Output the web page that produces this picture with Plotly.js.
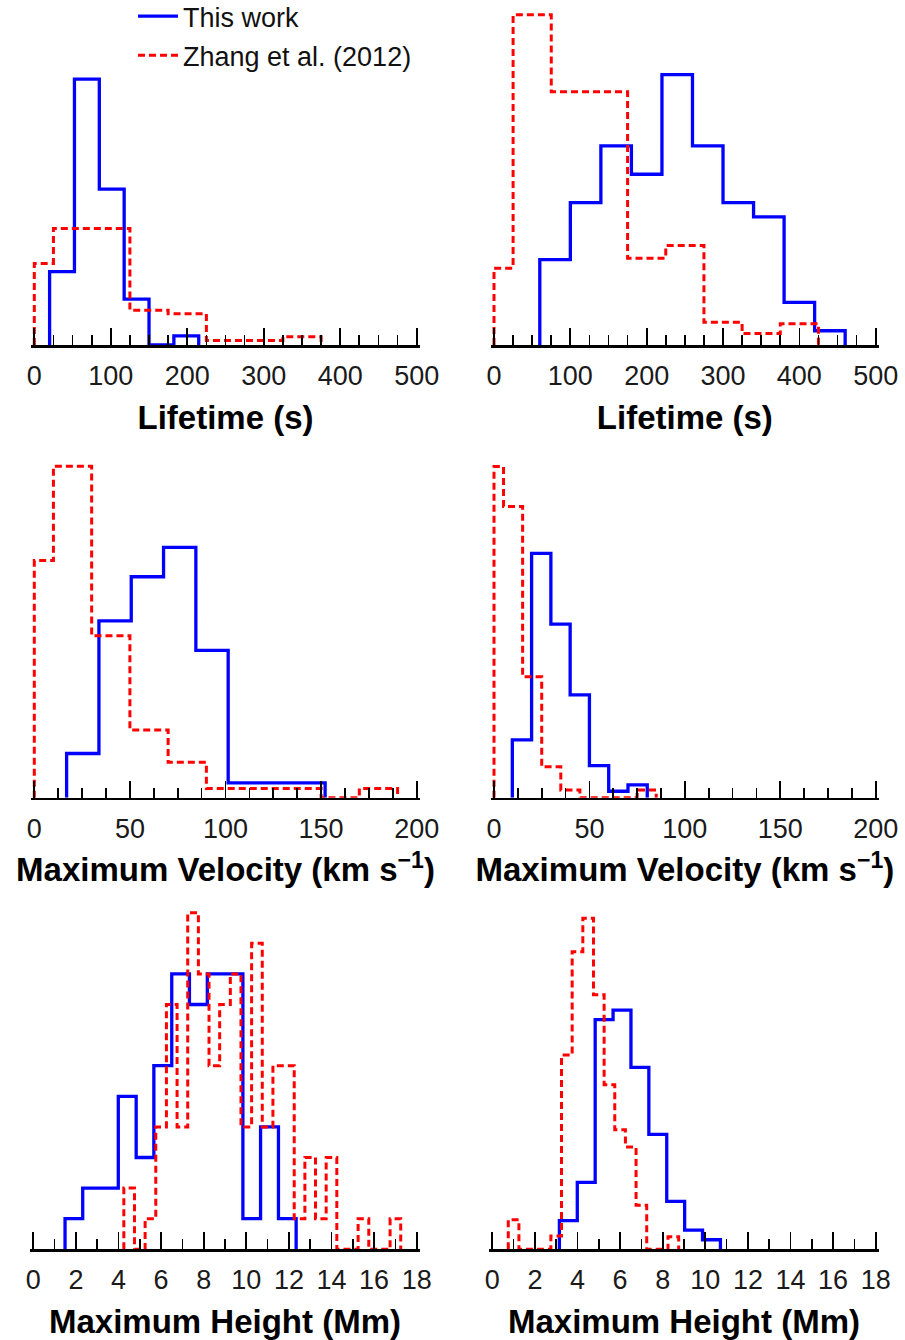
<!DOCTYPE html>
<html><head><meta charset="utf-8">
<script src="https://cdn.plot.ly/plotly-3.0.1.min.js"></script>
<style>html,body{margin:0;padding:0;background:#fff}#chart{width:905px;height:1340px}</style>
</head><body><div id="chart"></div>
<script>
// ---------------- DATA (bin edges + counts) ----------------
// Lifetime (s), left column
const lifeL_blue_edges = [20, 52.5, 85, 117.5, 150, 182.5, 215];
const lifeL_blue_counts = [8, 29, 17, 5, 0, 1];
const lifeL_red_edges = [0, 25, 75, 125, 175, 225, 275, 325, 375];
const lifeL_red_counts = [8.9, 12.7, 12.7, 3.8, 3.4, 0.5, 0.5, 0.9];
// Lifetime (s), right column
const lifeR_blue_edges = [60, 100, 140, 180, 220, 260, 300, 340, 380, 420, 460];
const lifeR_blue_counts = [6, 10, 14, 12, 19, 14, 10, 9, 3, 1];
const lifeR_red_edges = [0, 25, 75, 125, 175, 225, 275, 325, 375, 425];
const lifeR_red_counts = [5.4, 23.2, 17.8, 17.8, 6.1, 7.0, 1.6, 0.8, 1.5];
// Maximum velocity (km/s), left column
const velL_blue_edges = [16.9, 33.8, 50.7, 67.6, 84.5, 101.4, 118.3, 135.2, 152.1];
const velL_blue_counts = [3, 12, 15, 17, 10, 1, 1, 1];
const velL_red_edges = [0, 10, 30, 50, 70, 90, 110, 130, 150, 170, 190];
const velL_red_counts = [16.1, 22.5, 11.0, 4.6, 2.4, 0.63, 0.63, 0.63, 0, 0.63];
// Maximum velocity (km/s), right column
const velR_blue_edges = [9.6, 19.7, 29.8, 39.9, 50, 60.1, 70.2, 80.3];
const velR_blue_counts = [9, 38, 27, 16, 5, 1, 2];
const velR_red_edges = [0, 5, 15, 25, 35, 45, 55, 65, 75, 85];
const velR_red_counts = [51.5, 45.3, 18.8, 4.8, 1.2, 0, 0, 0, 1.2];
// Maximum height (Mm), left column
const hL_blue_edges = [1.49, 2.32, 3.16, 3.99, 4.83, 5.66, 6.50, 7.33, 8.17, 9.00, 9.84, 10.67, 11.51, 12.34];
const hL_blue_counts = [1, 2, 2, 5, 3, 6, 9, 8, 9, 9, 1, 4, 1];
const hL_red_edges = [4.25, 4.75, 5.25, 5.75, 6.25, 6.75, 7.25, 7.75, 8.25, 8.75, 9.25, 9.75, 10.25, 10.75,
                      11.25, 11.75, 12.25, 12.75, 13.25, 13.75, 14.25, 14.75, 15.25, 15.75, 16.25, 16.75, 17.25];
const hL_red_counts = [2, 0, 1, 4, 8, 4, 11, 9, 6, 8, 9, 4, 10, 4, 6, 6, 1, 3, 1, 3, 0, 0, 1, 0, 0, 1];
// Maximum height (Mm), right column
const hR_blue_edges = [3.15, 3.99, 4.83, 5.67, 6.51, 7.35, 8.19, 9.03, 9.87, 10.71];
const hR_blue_counts = [3, 7, 24, 25, 19, 12, 5, 2, 1];
const hR_red_edges = [0.75, 1.25, 1.75, 2.25, 2.75, 3.25, 3.75, 4.25, 4.75, 5.25, 5.75, 6.25, 6.75, 7.25, 7.75, 8.25, 8.75];
const hR_red_counts = [3.1, 0, 0, 0, 1.4, 20.3, 31.1, 34.6, 26.6, 17.2, 12.5, 10.7, 4.6, 0, 0, 1.3];

const seriesNames = ["This work", "Zhang et al. (2012)"];
const axisTitles = ["Lifetime (s)", "Maximum Velocity (km s<sup>\u22121</sup>)", "Maximum Height (Mm)"];

// ---------------- LAYOUT CONSTANTS ----------------
const W = 905, H = 1340, PAD = 3;
const FONT = "Liberation Sans, Arial, sans-serif";
const panels = [
  {be: lifeL_blue_edges, bc: lifeL_blue_counts, re: lifeL_red_edges, rc: lifeL_red_counts,
   range: [0, 500], dtick: 100, minor: 25, px: [34.3, 416.7], base: 345, top: 5, ppu: 9.17, title: axisTitles[0]},
  {be: lifeR_blue_edges, bc: lifeR_blue_counts, re: lifeR_red_edges, rc: lifeR_red_counts,
   range: [0, 500], dtick: 100, minor: 25, px: [494, 875.7], base: 345, top: 5, ppu: 14.23, title: axisTitles[0]},
  {be: velL_blue_edges, bc: velL_blue_counts, re: velL_red_edges, rc: velL_red_counts,
   range: [0, 200], dtick: 50, minor: 12.5, px: [34.3, 416.7], base: 797.7, top: 455, ppu: 14.73, title: axisTitles[1]},
  {be: velR_blue_edges, bc: velR_blue_counts, re: velR_red_edges, rc: velR_red_counts,
   range: [0, 200], dtick: 50, minor: 12.5, px: [494, 875.7], base: 797.7, top: 455, ppu: 6.43, title: axisTitles[1]},
  {be: hL_blue_edges, bc: hL_blue_counts, re: hL_red_edges, rc: hL_red_counts,
   range: [0, 18], dtick: 2, minor: 1, px: [33.3, 416.7], base: 1249.3, top: 905, ppu: 30.6, title: axisTitles[2]},
  {be: hR_blue_edges, bc: hR_blue_counts, re: hR_red_edges, rc: hR_red_counts,
   range: [0, 18], dtick: 2, minor: 1, px: [492.3, 875.7], base: 1249.3, top: 905, ppu: 9.57, title: axisTitles[2]}
];

function stepXY(edges, counts) {
  const x = [edges[0]], y = [0];
  for (let i = 0; i < counts.length; i++) { x.push(edges[i]); y.push(counts[i]); }
  x.push(edges[edges.length - 1]); y.push(0);
  return {x, y};
}

const traces = [];
const layout = {
  width: W, height: H, margin: {l: 0, r: 0, t: 0, b: 0, autoexpand: false},
  paper_bgcolor: "#fff", plot_bgcolor: "rgba(0,0,0,0)",
  font: {family: FONT, color: "#000"},
  showlegend: true,
  legend: {x: 133 / W, y: 1 + 8 / H, xanchor: "left", yanchor: "top",
           font: {size: 27, family: FONT, color: "#111"},
           bgcolor: "rgba(0,0,0,0)", traceorder: "grouped", tracegroupgap: 1, itemwidth: 40}
};

panels.forEach((p, i) => {
  const k = i + 1;
  const xa = "x" + (k === 1 ? "" : k), ya = "y" + (k === 1 ? "" : k);
  const b = stepXY(p.be, p.bc), r = stepXY(p.re, p.rc);
  traces.push({type: "scatter", mode: "lines", x: b.x, y: b.y, xaxis: xa, yaxis: ya,
    name: seriesNames[0], legendgroup: "blue", showlegend: i === 0, hoverinfo: "skip",
    line: {color: "#0000ff", width: 3.3, shape: "hv"}});
  traces.push({type: "scatter", mode: "lines", x: r.x, y: r.y, xaxis: xa, yaxis: ya,
    name: seriesNames[1], legendgroup: "red", showlegend: i === 0, hoverinfo: "skip",
    line: {color: "#ff0000", width: 3, shape: "hv", dash: "7px,4px"}});
  const ppx = (p.px[1] - p.px[0]) / (p.range[1] - p.range[0]);
  const padU = PAD / ppx;
  layout["xaxis" + (k === 1 ? "" : k)] = {
    domain: [(p.px[0] - PAD) / W, (p.px[1] + PAD) / W],
    range: [p.range[0] - padU, p.range[1] + padU],
    anchor: ya, showgrid: false, zeroline: false,
    showline: true, linecolor: "#000", linewidth: 2.5,
    ticks: "inside", ticklen: 17, tickwidth: 1.7, tickcolor: "#000",
    tick0: 0, dtick: p.dtick, ticklabelstandoff: 5,
    tickfont: {size: 27, family: FONT, color: "#1a1a1a"},
    minor: {ticks: "inside", ticklen: 10, tickwidth: 1.7, tickcolor: "#000", tick0: 0, dtick: p.minor, showgrid: false},
    title: {text: p.title, font: {size: 33, family: FONT, color: "#000", weight: "bold"}, standoff: 16},
    fixedrange: true
  };
  layout["yaxis" + (k === 1 ? "" : k)] = {
    domain: [1 - p.base / H, 1 - p.top / H],
    range: [0, (p.base - p.top) / p.ppu],
    anchor: xa, visible: false, fixedrange: true
  };
});

Plotly.newPlot("chart", traces, layout, {staticPlot: true, displayModeBar: false});
</script>
</body></html>
